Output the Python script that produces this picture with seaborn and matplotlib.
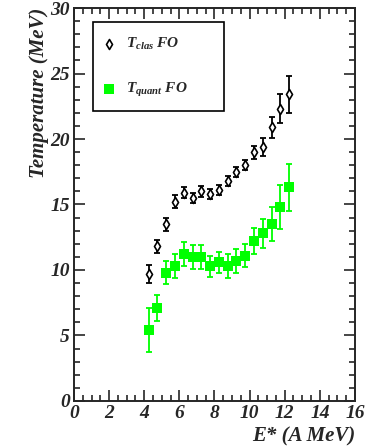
import numpy as np
import pandas as pd
import matplotlib
matplotlib.use('Agg')
import matplotlib.pyplot as plt
from matplotlib.ticker import MultipleLocator
from matplotlib.patches import Rectangle
from matplotlib.font_manager import FontProperties
import seaborn as sns

# excitation energy bins (A MeV)
e_star = [4.25, 4.75, 5.25, 5.75, 6.25, 6.75, 7.25, 7.75, 8.25,
          8.75, 9.25, 9.75, 10.25, 10.75, 11.25, 11.75, 12.25]

# classical freeze-out temperatures
t_clas = [9.7, 11.8, 13.5, 15.2, 15.9, 15.5, 16.0, 15.8, 16.1,
          16.8, 17.5, 18.0, 19.0, 19.4, 20.9, 22.3, 23.4]
t_clas_err = [0.7, 0.5, 0.5, 0.5, 0.4, 0.4, 0.4, 0.4, 0.4,
              0.4, 0.4, 0.4, 0.5, 0.7, 0.8, 1.1, 1.4]

# quantum freeze-out temperatures
t_quant = [5.4, 7.1, 9.8, 10.3, 11.2, 11.0, 11.0, 10.3, 10.6,
           10.3, 10.7, 11.1, 12.2, 12.8, 13.5, 14.8, 16.3]
t_quant_err = [1.7, 1.0, 0.9, 0.9, 0.9, 0.9, 0.9, 0.8, 0.8,
               0.9, 0.9, 0.9, 1.0, 1.1, 1.3, 1.7, 1.8]

x_ticks = [0, 2, 4, 6, 8, 10, 12, 14, 16]
y_ticks = [0, 5, 10, 15, 20, 25, 30]

sns.set_style('ticks')
plt.rcParams['font.family'] = 'Liberation Serif'
plt.rcParams['font.weight'] = 'bold'
plt.rcParams['font.style'] = 'italic'
plt.rcParams['mathtext.fontset'] = 'custom'
plt.rcParams['mathtext.rm'] = 'Liberation Serif:bold:italic'
plt.rcParams['mathtext.it'] = 'Liberation Serif:bold:italic'

def bold_it(size):
    return FontProperties(family='Liberation Serif', weight='bold',
                          style='italic', size=size)

df = pd.DataFrame({'E': e_star, 'clas': t_clas, 'quant': t_quant})

fig = plt.figure(figsize=(3.74, 4.46), dpi=100)
ax = fig.add_axes([0.198, 0.101, 0.751, 0.881])

green = '#00ff00'
ax.errorbar(e_star, t_quant, yerr=t_quant_err, fmt='none', ecolor=green,
            elinewidth=1.3, capsize=2.5, capthick=1.3, zorder=2)
ax.errorbar(e_star, t_clas, yerr=t_clas_err, fmt='none', ecolor='black',
            elinewidth=1.3, capsize=2.5, capthick=1.3, zorder=2)

sns.scatterplot(data=df, x='E', y='clas', ax=ax, marker='d', s=26,
                facecolor='white', edgecolor='black', linewidth=1.2,
                label=r'$T_{clas}$ FO', zorder=3)
sns.scatterplot(data=df, x='E', y='quant', ax=ax, marker='s', s=55,
                color=green, edgecolor=green, linewidth=0,
                label=r'$T_{quant}$ FO', zorder=3)

ax.set_xlim(0, 16)
ax.set_ylim(0, 30)
ax.set_xticks(x_ticks, [str(v) for v in x_ticks], fontproperties=bold_it(14))
ax.set_yticks(y_ticks, [str(v) for v in y_ticks], fontproperties=bold_it(14))
ax.xaxis.set_minor_locator(MultipleLocator(0.5))
ax.yaxis.set_minor_locator(MultipleLocator(1))
ax.tick_params(which='both', direction='in', top=True, right=True,
               width=1.2, pad=3)
ax.tick_params(which='major', length=8)
ax.tick_params(which='minor', length=4)
for sp in ax.spines.values():
    sp.set_linewidth(1.4)
    sp.set_visible(True)

ax.set_xlabel('E* (A MeV)', fontproperties=bold_it(15), loc='right',
              labelpad=3)
ax.set_ylabel('Temperature (MeV)', fontproperties=bold_it(15), loc='top',
              labelpad=1)

# legend box drawn as a plain frame, entries placed inside
ax.add_patch(Rectangle((0.068, 0.738), 0.466, 0.226, transform=ax.transAxes,
                       facecolor='white', edgecolor='black', linewidth=1.2,
                       zorder=4))
leg = ax.legend(loc='upper left', bbox_to_anchor=(0.097, 0.93),
                frameon=False, prop=bold_it(11), borderpad=0,
                labelspacing=1.95, handlelength=1.0, handletextpad=0.6,
                borderaxespad=0)
leg.set_zorder(5)

fig.savefig('out.png', dpi=100)
